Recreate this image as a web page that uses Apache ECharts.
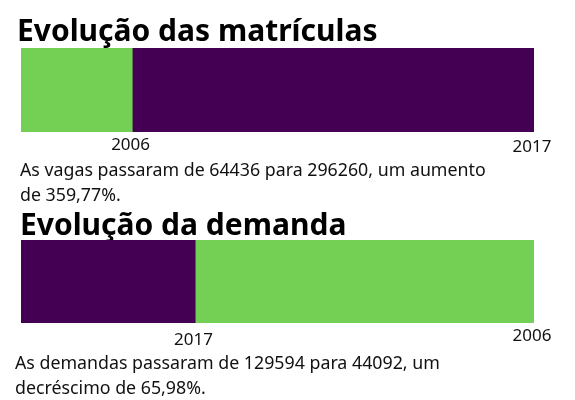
<!DOCTYPE html>
<html><head><meta charset="utf-8">
<script src="https://cdn.jsdelivr.net/npm/echarts@6/dist/echarts.min.js"></script>
<style>html,body{margin:0;padding:0;background:#fff}#c{width:575px;height:400px}</style>
</head><body><div id="c"></div>
<script>
const titles = ['Evolução das matrículas', 'Evolução da demanda'];
const years = ['2006', '2017'];
const vagas = [64436, 296260];      // 2006, 2017
const demandas = [129594, 44092];   // 2006, 2017
const notes = [
  ['As vagas passaram de 64436 para 296260, um aumento', 'de 359,77%.'],
  ['As demandas passaram de 129594 para 44092, um', 'decréscimo de 65,98%.']
];
const yearColors = { '2006': '#73D055', '2017': '#440154' };

const FONT = '"Noto Sans", sans-serif';
const grids = [
  { left: 21, width: 513, top: 48, height: 84 },
  { left: 21, width: 513, top: 240, height: 83 }
];
// vertical label offsets per chart, per year index (style only)
const labelDy = [[5, 7], [5, 9]];
const datasets = [vagas, demandas];

const option = {
  animation: false,
  grid: grids,
  xAxis: [], yAxis: [], series: [],
  graphic: []
};

datasets.forEach((vals, gi) => {
  const max = Math.max(...vals);
  option.xAxis.push({ gridIndex: gi, type: 'value', min: 0, max: max, show: false });
  option.yAxis.push({ gridIndex: gi, type: 'category', data: ['x'], show: false });
  const order = years.map((y, i) => i).sort((a, b) => vals[b] - vals[a]);
  order.forEach((i, k) => {
    option.series.push({
      type: 'bar', xAxisIndex: gi, yAxisIndex: gi,
      data: [vals[i]], barWidth: grids[gi].height, barGap: '-100%',
      z: 2 + k,
      itemStyle: { color: yearColors[years[i]] },
      label: {
        show: true, formatter: years[i],
        position: ['100%', '100%'], align: 'center', verticalAlign: 'top',
        offset: [-2, labelDy[gi][i]],
        fontFamily: FONT, fontSize: 17, color: '#111'
      }
    });
  });
});

const titlePos = [[17, 17], [20, 211]];
titles.forEach((t, gi) => {
  option.graphic.push({
    type: 'text', left: titlePos[gi][0], top: titlePos[gi][1],
    style: { text: t, font: 'bold 30px ' + FONT, fill: '#000' }
  });
});

const noteTops = [[162, 187], [355, 380]];
const noteLefts = [20, 15];
notes.forEach((lines, gi) => {
  lines.forEach((t, li) => {
    option.graphic.push({
      type: 'text', left: noteLefts[gi], top: noteTops[gi][li],
      style: { text: t, font: '17.8px ' + FONT, fill: '#111' }
    });
  });
});

const chart = echarts.init(document.getElementById('c'), null, { renderer: 'canvas' });
chart.setOption(option);
</script></body></html>
